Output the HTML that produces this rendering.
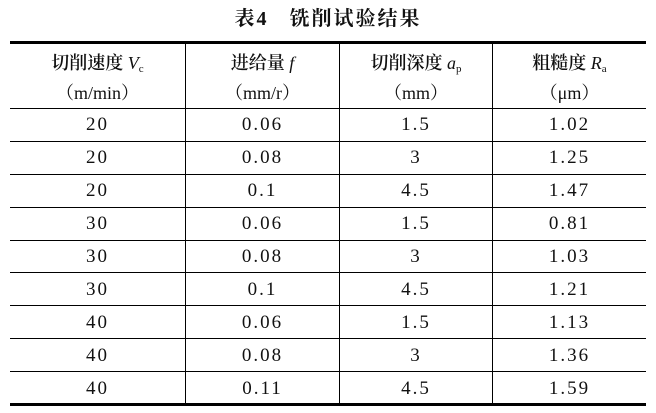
<!DOCTYPE html>
<html><head><meta charset="utf-8"><style>
body{margin:0;width:656px;height:413px;background:#fff;position:relative;overflow:hidden;font-family:"Liberation Serif","Noto Serif CJK SC",serif;color:#111}
.t{position:absolute;left:0;width:656px;top:2px;text-align:center;font-size:20px;font-weight:bold;font-family:"Liberation Serif","Noto Serif CJK SC",serif;letter-spacing:2px}
.h{position:absolute;left:10px;width:636px;background:#000}
.v{position:absolute;top:43px;height:361px;width:1px;background:#000}
.c{position:absolute;text-align:center;font-size:19px;letter-spacing:2px;line-height:33px;top:108px}
.hd{position:absolute;text-align:center;font-size:18px;line-height:30px;top:48px;font-family:"Liberation Serif","Noto Serif CJK SC",serif;font-weight:600}
.hd i{font-weight:normal}
.hd .u{font-weight:normal}
sub{font-size:11px;line-height:0;vertical-align:-3px;font-weight:normal}
</style></head><body>
<div class="t">表4&nbsp;&nbsp;&nbsp;铣削试验结果</div>
<div class="h" style="top:41px;height:3px"></div>
<div class="h" style="top:108px;height:1px"></div>
<div class="h" style="top:141px;height:1px"></div>
<div class="h" style="top:174px;height:1px"></div>
<div class="h" style="top:207px;height:1px"></div>
<div class="h" style="top:240px;height:1px"></div>
<div class="h" style="top:272px;height:1px"></div>
<div class="h" style="top:305px;height:1px"></div>
<div class="h" style="top:338px;height:1px"></div>
<div class="h" style="top:371px;height:1px"></div>
<div class="h" style="top:403px;height:3px"></div>
<div class="v" style="left:185px"></div>
<div class="v" style="left:339px"></div>
<div class="v" style="left:492px"></div>
<div class="hd" style="left:10px;width:175px">切削速度 <i>V</i><sub>c</sub><br><span class="u">（m/min）</span></div>
<div class="hd" style="left:186px;width:153px">进给量 <i>f</i><br><span class="u">（mm/r）</span></div>
<div class="hd" style="left:340px;width:152px">切削深度 <i>a</i><sub>p</sub><br><span class="u">（mm）</span></div>
<div class="hd" style="left:493px;width:153px">粗糙度 <i>R</i><sub>a</sub><br><span class="u">（μm）</span></div>
<div class="c" style="left:10px;width:175px">20<br>20<br>20<br>30<br>30<br>30<br>40<br>40<br>40</div>
<div class="c" style="left:186px;width:153px">0.06<br>0.08<br>0.1<br>0.06<br>0.08<br>0.1<br>0.06<br>0.08<br>0.11</div>
<div class="c" style="left:340px;width:152px">1.5<br>3<br>4.5<br>1.5<br>3<br>4.5<br>1.5<br>3<br>4.5</div>
<div class="c" style="left:493px;width:153px">1.02<br>1.25<br>1.47<br>0.81<br>1.03<br>1.21<br>1.13<br>1.36<br>1.59</div>
</body></html>
